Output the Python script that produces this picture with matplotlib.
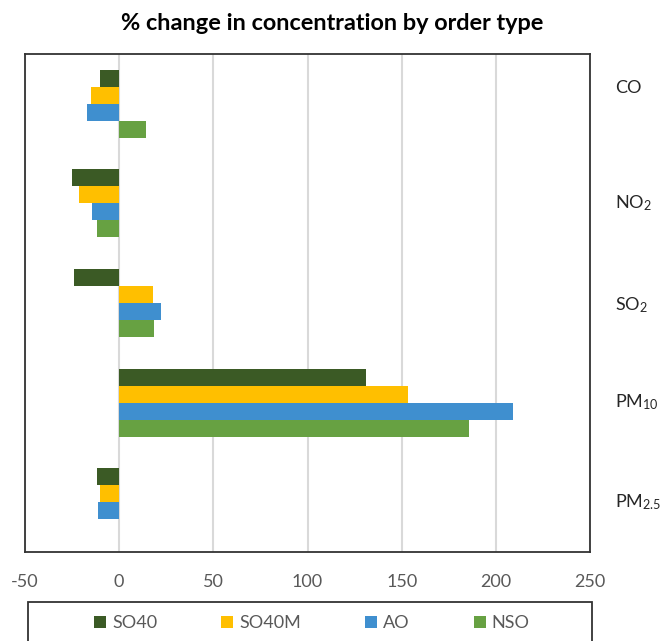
import matplotlib
matplotlib.use("Agg")
import matplotlib.pyplot as plt
from matplotlib.patches import Rectangle, Patch
import numpy as np

plt.rcParams['font.family'] = ['Lato', 'DejaVu Sans']
plt.rcParams['mathtext.default'] = 'regular'

# Pollutants, top to bottom
pollutants = ["CO", "NO$_2$", "SO$_2$", "PM$_{10}$", "PM$_{2.5}$"]
series_names = ["SO40", "SO40M", "AO", "NSO"]

# % change in concentration per pollutant (same order as pollutants)
so40 = [-10, -25, -24, 131, -12]
so40m = [-15, -21.5, 18, 153.5, -10]
ao = [-17, -14.5, 22, 209, -11]
nso = [14.5, -12, 18.5, 186, 0]

x_ticks = [-50, 0, 50, 100, 150, 200, 250]

colors = ["#3b5a25", "#ffbf00", "#3f8fcf", "#67a142"]
series = [so40, so40m, ao, nso]

W, H = 667, 641
fig = plt.figure(figsize=(W / 100, H / 100), dpi=100)
ax = fig.add_axes([25 / W, 1 - 552 / H, (590 - 25) / W, (552 - 54) / H])

y = np.arange(len(pollutants))
bar_h = 0.171
offsets = (np.arange(len(series)) - 1.5) * bar_h
for vals, off, c, name in zip(series, offsets, colors, series_names):
    ax.barh(y + off, vals, height=bar_h, color=c, label=name, zorder=3)

ax.set_ylim(len(pollutants) - 0.5, -0.5)
ax.set_xlim(-50, 250)
ax.set_xticks(x_ticks)
ax.set_xticklabels([str(t) for t in x_ticks], fontsize=13, color="#595959")
ax.tick_params(axis='x', length=0, pad=16)
ax.set_yticks([])
ax.grid(axis='x', color="#d9d9d9", linewidth=1.5, zorder=0)
for s in ax.spines.values():
    s.set_color("#333333")
    s.set_linewidth(1.3)

# Pollutant names to the right of the plot
label_shift = [-0.16, 0.0, 0.02, 0.0, 0.0]
for yi, name, sh in zip(y, pollutants, label_shift):
    ax.text(1.045, yi + sh, name, transform=ax.get_yaxis_transform(),
            fontsize=13, color="#262626", va='center', ha='left')

fig.text(332 / W, 1 - 23 / H, "% change in concentration by order type",
         ha='center', va='center', fontsize=16.9, fontweight='bold', color="#000000")

# Legend frame below the axis labels
fig.patches.append(Rectangle((28 / W, -0.2), (592 - 28) / W, 0.2 + (641 - 602) / H,
                             transform=fig.transFigure, fill=False,
                             edgecolor="#333333", linewidth=1.3))
handles = [Patch(facecolor=c, label=n) for c, n in zip(colors, series_names)]
fig.legend(handles=handles, loc='center', bbox_to_anchor=(312 / W, 1 - 623 / H),
           ncol=4, frameon=False, fontsize=13, handlelength=0.66, handleheight=0.66,
           handletextpad=0.33, columnspacing=3.55, labelcolor="#595959",
           borderpad=0, borderaxespad=0)

fig.savefig("out.png", dpi=100)
